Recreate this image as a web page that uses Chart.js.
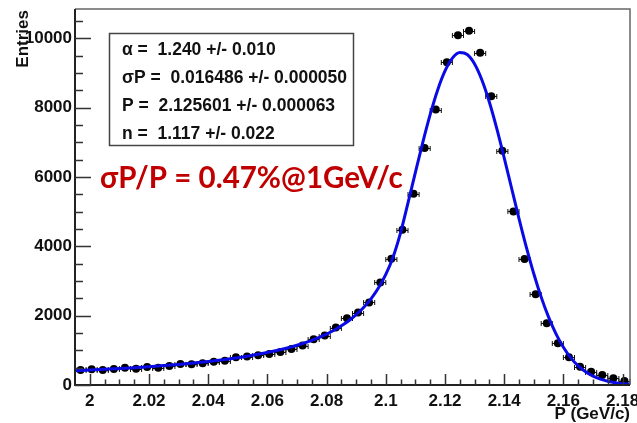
<!DOCTYPE html>
<html>
<head>
<meta charset="utf-8">
<script src="https://cdn.jsdelivr.net/npm/chart.js@4.4.1/dist/chart.umd.min.js"></script>
<style>
  html, body { margin: 0; padding: 0; background: #fff; overflow: hidden; }
  canvas { display: block; }
</style>
</head>
<body>
<canvas id="chart" width="637" height="423"></canvas>
<script>
// Histogram of reconstructed momentum: bin centres (GeV/c) and entries per bin
const binCenters = [
  1.996875, 2.000625, 2.004375, 2.008125, 2.011875, 2.015625, 2.019375, 2.023125, 2.026875, 2.030625,
  2.034375, 2.038125, 2.041875, 2.045625, 2.049375, 2.053125, 2.056875, 2.060625, 2.064375, 2.068125,
  2.071875, 2.075625, 2.079375, 2.083125, 2.086875, 2.090625, 2.094375, 2.098125, 2.101875, 2.105625,
  2.109375, 2.113125, 2.116875, 2.120625, 2.124375, 2.128125, 2.131875, 2.135625, 2.139375, 2.143125,
  2.146875, 2.150625, 2.154375, 2.158125, 2.161875, 2.165625, 2.169375, 2.173125, 2.176875, 2.180625
];
const entries = [
  434, 454, 434, 463, 500, 472, 521, 500, 550, 607,
  599, 628, 674, 703, 801, 820, 860, 895, 955, 1040,
  1137, 1322, 1426, 1658, 1929, 2091, 2381, 2959, 3645, 4480,
  5520, 6841, 7948, 9315, 10095, 10220, 9587, 8333, 6763, 5009,
  3633, 2621, 1783, 1205, 800, 530, 385, 289, 193, 116
];
const binWidth = 0.00375;

// Crystal Ball fit, sampled along P (GeV/c)
const fitP = [
  1.995, 2.000, 2.005, 2.010, 2.015, 2.020, 2.025, 2.030, 2.035, 2.040,
  2.045, 2.050, 2.055, 2.060, 2.065, 2.070, 2.075, 2.080, 2.0825, 2.085,
  2.0875, 2.090, 2.0925, 2.095, 2.0975, 2.100, 2.1025, 2.105, 2.1075, 2.110,
  2.1125, 2.115, 2.1175, 2.120, 2.1225, 2.125, 2.1275, 2.130, 2.1325, 2.135,
  2.1375, 2.140, 2.1425, 2.145, 2.1475, 2.150, 2.1525, 2.155, 2.1575, 2.160,
  2.1625, 2.165, 2.1675, 2.170, 2.1725, 2.175, 2.1775, 2.180, 2.1825
];
const fitValues = [
  412, 431, 452, 475, 501, 529, 560, 595, 634, 678,
  729, 788, 856, 936, 1031, 1147, 1290, 1471, 1581, 1708,
  1855, 2029, 2236, 2487, 2797, 3190, 3703, 4398, 5254, 6135,
  7001, 7807, 8508, 9062, 9432, 9594, 9537, 9264, 8795, 8160,
  7399, 6556, 5677, 4804, 3973, 3211, 2536, 1958, 1477, 1089,
  784, 552, 380, 256, 168, 108, 68, 42, 26
];

// Axis ticks
const xTickValues = [2.00, 2.02, 2.04, 2.06, 2.08, 2.10, 2.12, 2.14, 2.16, 2.18];
const xTickLabels = ['2', '2.02', '2.04', '2.06', '2.08', '2.1', '2.12', '2.14', '2.16', '2.18'];
const yTickValues = [0, 2000, 4000, 6000, 8000, 10000];
const yTickLabels = ['0', '2000', '4000', '6000', '8000', '10000'];

// Fit results box and annotation
const fitParams = [
  'α =  1.240 +/- 0.010',
  'σP =  0.016486 +/- 0.000050',
  'P =  2.125601 +/- 0.000063',
  'n =  1.117 +/- 0.022'
];
const resolutionNote = 'σP/P = 0.47%@1GeV/c';
const xTitle = 'P (GeV/c)';
const yTitle = 'Entries';

const X_MIN = 1.995, X_MAX = 2.1825, Y_MIN = 0, Y_MAX = 10850;
const rootFont = (s) => `bold ${s}px "Liberation Sans", Arial, Helvetica, sans-serif`;

const histoDecor = {
  id: 'histoDecor',
  beforeDraw(chart) {
    const c = chart.ctx;
    c.save();
    c.fillStyle = '#fff';
    c.fillRect(0, 0, chart.width, chart.height);
    c.restore();
  },
  beforeDatasetsDraw(chart) {
    // horizontal error bars spanning each bin, with end caps
    const c = chart.ctx, xs = chart.scales.x, ys = chart.scales.y;
    c.save();
    c.strokeStyle = '#111';
    c.lineWidth = 1;
    binCenters.forEach((p, i) => {
      const x0 = xs.getPixelForValue(p - binWidth / 2);
      const x1 = xs.getPixelForValue(p + binWidth / 2);
      const y = Math.round(ys.getPixelForValue(entries[i])) + 0.5;
      c.beginPath();
      c.moveTo(x0, y); c.lineTo(x1, y);
      c.moveTo(x0, y - 2.5); c.lineTo(x0, y + 2.5);
      c.moveTo(x1, y - 2.5); c.lineTo(x1, y + 2.5);
      c.stroke();
    });
    c.restore();
  },
  afterDraw(chart) {
    const c = chart.ctx, a = chart.chartArea, xs = chart.scales.x, ys = chart.scales.y;
    c.save();

    // frame: light top/right, dark axes left/bottom
    c.strokeStyle = '#666';
    c.lineWidth = 1.5;
    c.beginPath();
    c.moveTo(a.left, a.top); c.lineTo(a.right, a.top); c.lineTo(a.right, a.bottom);
    c.stroke();
    c.strokeStyle = '#222';
    c.lineWidth = 2;
    c.beginPath();
    c.moveTo(a.left, a.top); c.lineTo(a.left, a.bottom); c.lineTo(a.right, a.bottom);
    c.stroke();

    // inward tick marks
    c.lineWidth = 1.5;
    c.strokeStyle = '#333';
    c.beginPath();
    for (let v = 0; v <= Y_MAX; v += 500) {
      const y = Math.round(ys.getPixelForValue(v)) + 0.5;
      const len = (v % 2000 === 0) ? 16 : 8;
      c.moveTo(a.left, y); c.lineTo(a.left + len, y);
    }
    for (let k = 0; ; k++) {
      const v = 2.000 + k * 0.005;
      if (v > X_MAX + 1e-9) break;
      const x = Math.round(xs.getPixelForValue(v)) + 0.5;
      const len = (k % 4 === 0) ? 11 : 5.5;
      c.moveTo(x, a.bottom); c.lineTo(x, a.bottom - len);
    }
    c.stroke();

    // axis titles
    c.fillStyle = '#111';
    c.font = rootFont(17);
    c.textAlign = 'right';
    c.textBaseline = 'alphabetic';
    c.fillText(xTitle, a.right, 419);
    c.save();
    c.translate(28, 10);
    c.rotate(-Math.PI / 2);
    c.fillText(yTitle, 0, 0);
    c.restore();

    // fit parameter box
    c.fillStyle = '#fff';
    c.fillRect(109.5, 33.5, 244, 112);
    c.strokeStyle = '#444';
    c.lineWidth = 1.5;
    c.strokeRect(109.5, 33.5, 244, 112);
    c.fillStyle = '#111';
    c.font = rootFont(17.5);
    c.textAlign = 'left';
    fitParams.forEach((t, i) => c.fillText(t, 122, 54.5 + 28 * i));

    // resolution annotation
    c.fillStyle = '#c00000';
    c.font = 'bold 29.5px Lato, "Open Sans", sans-serif';
    c.fillText(resolutionNote, 100, 188);

    c.restore();
  }
};

new Chart(document.getElementById('chart'), {
  type: 'scatter',
  data: {
    datasets: [
      {
        type: 'line',
        label: 'fit',
        data: fitP.map((p, i) => ({ x: p, y: fitValues[i] })),
        borderColor: '#0a0ae6',
        borderWidth: 3,
        pointRadius: 0,
        fill: false,
        cubicInterpolationMode: 'monotone',
        order: 0
      },
      {
        label: 'data',
        data: binCenters.map((p, i) => ({ x: p, y: entries[i] })),
        backgroundColor: '#000',
        borderWidth: 0,
        pointRadius: 4,
        order: 1
      }
    ]
  },
  options: {
    responsive: false,
    animation: false,
    devicePixelRatio: 1,
    layout: { padding: { left: 0, right: 7, top: 9, bottom: 0 } },
    plugins: { legend: { display: false }, tooltip: { enabled: false } },
    scales: {
      x: {
        type: 'linear', min: X_MIN, max: X_MAX,
        grid: { display: false, drawTicks: false },
        border: { display: false },
        afterBuildTicks: (s) => { s.ticks = xTickValues.map(v => ({ value: v })); },
        afterFit: (s) => { s.height = 38; s.paddingLeft = 0; s.paddingRight = 0; },
        ticks: {
          autoSkip: false, maxRotation: 0, padding: 6, color: '#111',
          font: { family: '"Liberation Sans", Arial, sans-serif', weight: 'bold', size: 17 },
          callback: (v, i) => xTickLabels[i]
        }
      },
      y: {
        type: 'linear', min: Y_MIN, max: Y_MAX,
        grid: { display: false, drawTicks: false },
        border: { display: false },
        afterBuildTicks: (s) => { s.ticks = yTickValues.map(v => ({ value: v })); },
        afterFit: (s) => { s.width = 75; s.paddingTop = 0; s.paddingBottom = 0; },
        ticks: {
          autoSkip: false, padding: 3, color: '#111',
          font: { family: '"Liberation Sans", Arial, sans-serif', weight: 'bold', size: 17 },
          callback: (v, i) => yTickLabels[i]
        }
      }
    }
  },
  plugins: [histoDecor]
});
</script>
</body>
</html>
